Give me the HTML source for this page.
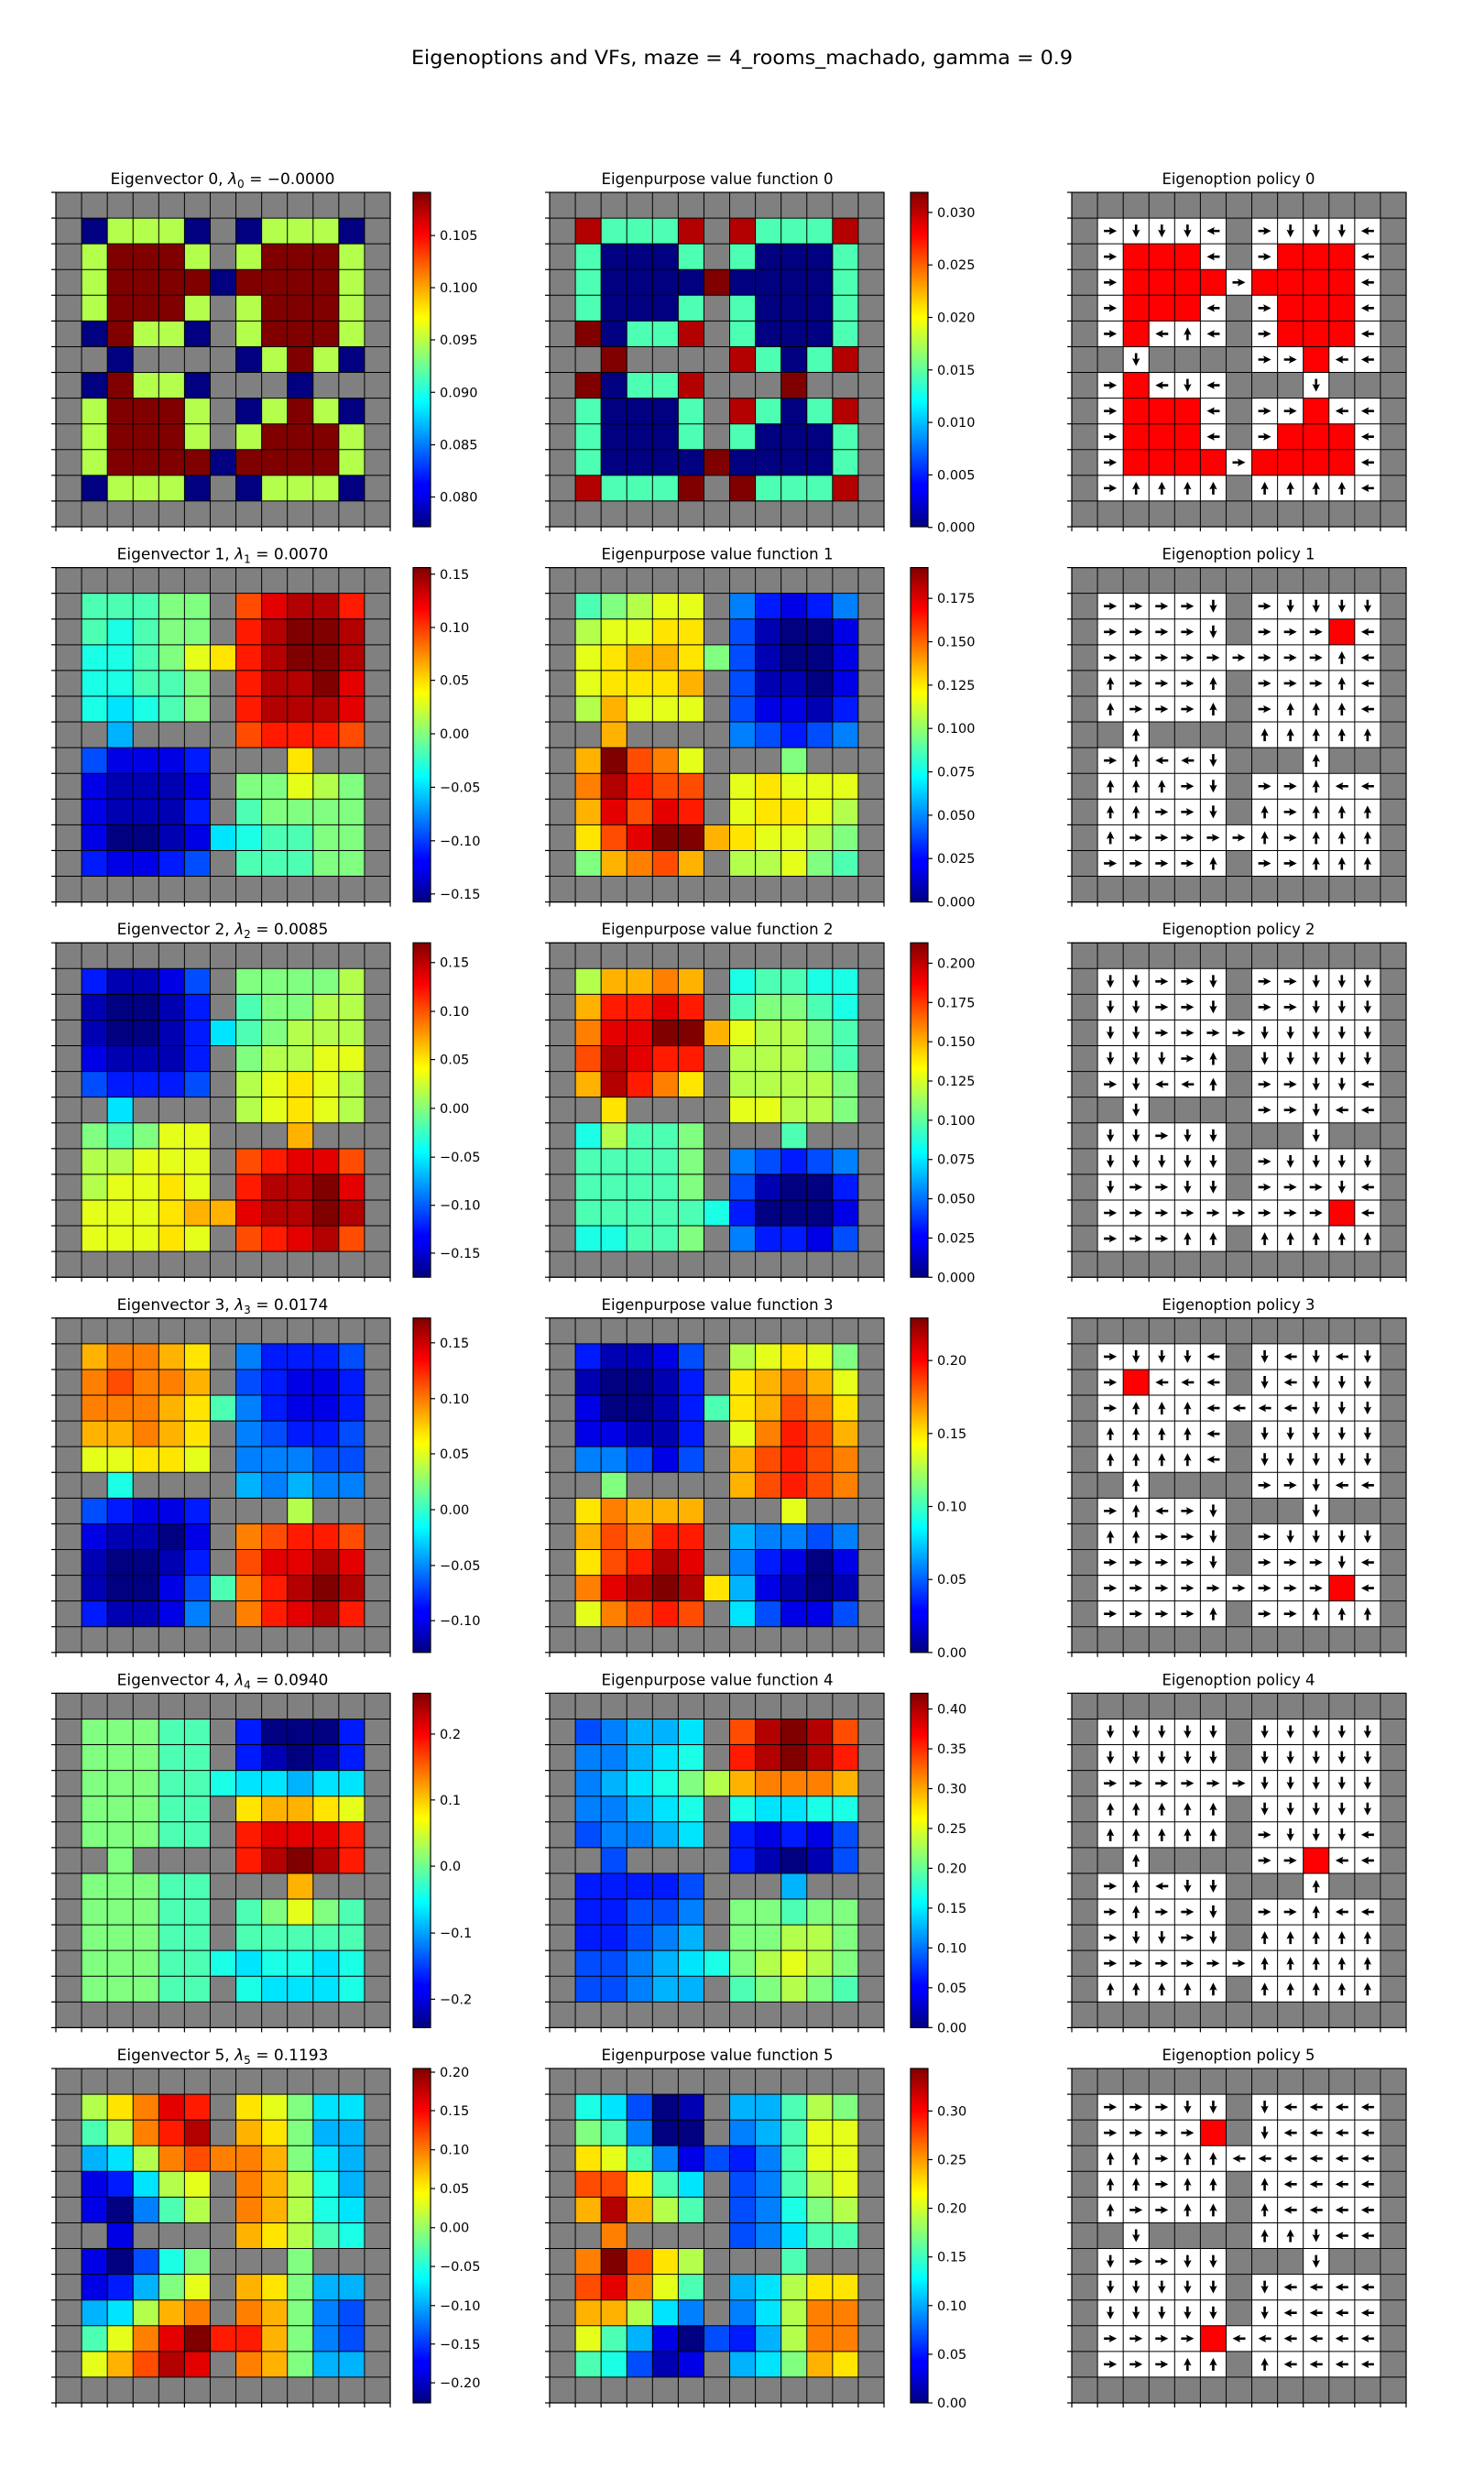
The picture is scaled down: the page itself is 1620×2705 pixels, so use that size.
<!DOCTYPE html>
<html><head><meta charset="utf-8">
<style>
html,body{margin:0;padding:0;background:#fff;}
svg text{font-family:"DejaVu Sans","Liberation Sans",sans-serif;fill:#000;}
</style></head>
<body>
<div id="host"></div>
<script>
(function(){
var H=[
["#############","#ALLLA#ALLLA#","#LUUUL#LUUUL#","#LUUUUAUUUUL#","#LUUUL#LUUUL#","#AULLA#LUUUL#","##A####ALULA#","#AULLA###A###","#LUUUL#ALULA#","#LUUUL#LUUUL#","#LUUUUAUUUUL#","#ALLLA#ALLLA#","#############"],
["#############","#TJJJT#TJJJT#","#JAAAJ#JAAAJ#","#JAAAAUAAAAJ#","#JAAAJ#JAAAJ#","#UAJJT#JAAAJ#","##U####TJAJT#","#UAJJT###U###","#JAAAJ#TJAJT#","#JAAAJ#JAAAJ#","#JAAAAUAAAAJ#","#TJJJU#UJJJT#","#############"],
["#############","#JJJKK#QSTTR#","#JIJKK#RTUUT#","#IIJKMNRTUUT#","#IIJJK#RTTUS#","#IHIJK#RTTTS#","##G####QRRRQ#","#ECCCD###N###","#CBBBC#KKMLK#","#CBBBD#JKKKK#","#CAABCHIJJKK#","#DCCDE#JJJKK#","#############"],
["#############","#JKLMM#FDCDF#","#LMMNN#EBAAC#","#MNOONKEBAAC#","#MNNNO#EBBAC#","#LOMMM#ECCBD#","##O####FEDEF#","#OUQPM###K###","#PTRQQ#MNMMM#","#OSQSR#MNNML#","#NQSUUONMMLK#","#KOPQO#LLMKJ#","#############"],
["#############","#DBBCE#KKKKL#","#BAABD#JKKLL#","#BAABDHJKLLL#","#CBBBD#KLLMM#","#EDDDE#LMNML#","##H####LMNML#","#KJKMM###O###","#LLMMM#QRSSQ#","#LMMNM#RTTUS#","#MMMNOOSTTUT#","#MMMNM#QRSTQ#","#############"],
["#############","#LOOPO#IJJII#","#ORRSR#JKKJI#","#PSSUUOMLLKJ#","#QTSRR#LLLKJ#","#OTRPN#LLLLK#","##N####MMLLK#","#ILJJK###J###","#JJJJK#FEDEF#","#JJJJK#EBAAD#","#JJJJJIDAAAC#","#IIJJK#FDDCE#","#############"],
["#############","#OPPON#FDDDE#","#PQPPO#EDCCD#","#PPPONJFDCCD#","#OOPON#FEDDE#","#MMNNM#FFFEE#","##I####GFGFF#","#EDCCD###L###","#CBBAC#PQRRQ#","#BAABD#QSSTS#","#BAACEJPRTUT#","#DBBCF#PRSTR#","#############"],
["#############","#DBBCE#LMNMK#","#BAABD#NOPOM#","#CAABDJNOQPN#","#CCBBD#MPRQO#","#FFECE#OQRQP#","##K####OQRQP#","#NPOOO###M###","#OQPRR#GFFEF#","#NQRTS#FDCAC#","#PSTUTNGCBAB#","#MPQRQ#HECCE#","#############"],
["#############","#KKKJJ#DAAAD#","#KKKJJ#DBABD#","#KKKJJIHHGHH#","#KKKJJ#NOONM#","#KKKJJ#RSSSR#","##K####RTUTR#","#KKKJJ###O###","#KKKJJ#JKMKJ#","#KKKJJ#JJJJJ#","#KKKJJIHIIHI#","#KKKJJ#IHHHI#","#############"],
["#############","#EFGGH#QTUTQ#","#FFGHI#RTUTR#","#FGHIKLOPPPO#","#FFGHI#IHHII#","#EFFGH#DCDCE#","##E####DBABE#","#DDDDE###G###","#DDEEF#KKJKK#","#DDEFG#KKLLK#","#EEFGHIKLMLK#","#EEFGG#JKLKJ#","#############"],
["#############","#LNPSR#NMKHH#","#JLPRT#ONKGG#","#GHLPQPPOKHG#","#CDHLM#POLIG#","#CAFJL#POLIH#","##C####ONLJI#","#CAEIK###K###","#CDGKM#ONKGG#","#GHLOP#POKFE#","#JMPSURROKFE#","#MOQTS#POKGG#","#############"],
["#############","#IHEAB#GGJLK#","#KJFAA#FGJMM#","#NMJFCEDFJMM#","#QQNJH#EFJLM#","#OTOLJ#EFIKL#","##P####EFHJJ#","#PUQNL###J###","#QSPMJ#GHLNN#","#OOLHF#FHLPP#","#MJGCAEDGLPP#","#JIEBC#GHKON#","#############"]
];
var P=[
["#############","#rdddl#rdddl#","#rXXXl#rXXXl#","#rXXXXrXXXXl#","#rXXXl#rXXXl#","#rXlul#rXXXl#","##d####rrXll#","#rXldl###d###","#rXXXl#rrXll#","#rXXXl#rXXXl#","#rXXXXrXXXXl#","#ruuuu#uuuul#","#############"],
["#############","#rrrrd#rdddd#","#rrrrd#rrrXl#","#rrrrrrrrrul#","#urrru#rrrul#","#urrru#ruuul#","##u####uuuuu#","#rulld###u###","#uuurd#rrull#","#uurrd#uruuu#","#urrrrruruuu#","#rrrru#rruuu#","#############"],
["#############","#ddrrd#rrddd#","#ddrrd#rrddd#","#ddrrrrddddd#","#dddru#ddddd#","#rdllu#rrddl#","##d####rrdll#","#ddrdd###d###","#ddddd#rdddd#","#drrdd#rrrdl#","#rrrrrrrrrXl#","#rrruu#uuuuu#","#############"],
["#############","#rdddl#dldld#","#rXlll#dlddd#","#ruuullllddd#","#uuuul#ddddd#","#uuuul#ddddd#","##u####rrdll#","#rulrd###d###","#uurrd#rdddd#","#rrrrd#rrrdl#","#rrrrrrrrrXl#","#rrrru#rruuu#","#############"],
["#############","#ddddd#ddddd#","#ddddd#ddddd#","#rrrrrrddddd#","#uuuuu#ddddd#","#uuuuu#rdddl#","##u####rrXll#","#ruldd###u###","#rurrd#rrull#","#rddrd#uuuuu#","#rrrrrruuuuu#","#uuuuu#uuuuu#","#############"],
["#############","#rrrdd#dllll#","#rrrrX#dllll#","#uuruullllll#","#uuruu#ullll#","#urruu#ullll#","##d####uudll#","#drrdd###d###","#ddddd#dllll#","#ddddd#dllll#","#rrrrXllllll#","#rrruu#ullll#","#############"]
];
var titles0=["−0.0000","0.0070","0.0085","0.0174","0.0940","0.1193"];
var cb0=[
 [[0.129,"0.105"],[0.285,"0.100"],[0.441,"0.095"],[0.598,"0.090"],[0.755,"0.085"],[0.911,"0.080"]],
 [[0.0196,"0.15"],[0.179,"0.10"],[0.337,"0.05"],[0.497,"0.00"],[0.657,"−0.05"],[0.817,"−0.10"],[0.976,"−0.15"]],
 [[0.059,"0.15"],[0.205,"0.10"],[0.349,"0.05"],[0.495,"0.00"],[0.641,"−0.05"],[0.785,"−0.10"],[0.928,"−0.15"]],
 [[0.074,"0.15"],[0.241,"0.10"],[0.406,"0.05"],[0.573,"0.00"],[0.74,"−0.05"],[0.905,"−0.10"]],
 [[0.122,"0.2"],[0.319,"0.1"],[0.517,"0.0"],[0.717,"−0.1"],[0.915,"−0.2"]],
 [[0.011,"0.20"],[0.126,"0.15"],[0.243,"0.10"],[0.359,"0.05"],[0.476,"0.00"],[0.592,"−0.05"],[0.709,"−0.10"],[0.824,"−0.15"],[0.94,"−0.20"]]
];
function mk(first,step,n,labels){var a=[];for(var i=0;i<n;i++)a.push([first+i*step,labels[i]]);return a;}
var cb1=[
 mk(0.06,0.157,7,["0.030","0.025","0.020","0.015","0.010","0.005","0.000"]),
 mk(0.092,0.1297,8,["0.175","0.150","0.125","0.100","0.075","0.050","0.025","0.000"]),
 mk(0.061,0.1174,9,["0.200","0.175","0.150","0.125","0.100","0.075","0.050","0.025","0.000"]),
 mk(0.127,0.2183,5,["0.20","0.15","0.10","0.05","0.00"]),
 mk(0.047,0.1191,9,["0.40","0.35","0.30","0.25","0.20","0.15","0.10","0.05","0.00"]),
 mk(0.127,0.1455,7,["0.30","0.25","0.20","0.15","0.10","0.05","0.00"])
];
function cl(v){return Math.max(0,Math.min(1,v));}
function jet(t){var r=cl(1.5-Math.abs(4*t-3)),g=cl(1.5-Math.abs(4*t-2)),b=cl(1.5-Math.abs(4*t-1));
 return "rgb("+Math.round(r*255)+","+Math.round(g*255)+","+Math.round(b*255)+")";}
var CS=365/13;
function f2(v){return v.toFixed(2);}
function grid(x0,y0){var s="";
 for(var i=0;i<=13;i++){
  var yy=f2(y0+i*CS), xx=f2(x0+i*CS);
  s+='<line x1="'+x0+'" y1="'+yy+'" x2="'+(x0+365)+'" y2="'+yy+'" stroke="#000" stroke-width="1"/>';
  s+='<line x1="'+xx+'" y1="'+f2(y0)+'" x2="'+xx+'" y2="'+f2(y0+365)+'" stroke="#000" stroke-width="1"/>';
  s+='<line x1="'+(x0-5)+'" y1="'+yy+'" x2="'+x0+'" y2="'+yy+'" stroke="#000" stroke-width="1.2"/>';
  s+='<line x1="'+xx+'" y1="'+f2(y0+365)+'" x2="'+xx+'" y2="'+f2(y0+370)+'" stroke="#000" stroke-width="1.2"/>';
 }
 s+='<rect x="'+x0+'" y="'+f2(y0)+'" width="365" height="365" fill="none" stroke="#000" stroke-width="1.2"/>';
 return s;}
function heat(x0,y0,d){var s="";
 for(var r=0;r<13;r++)for(var c=0;c<13;c++){var ch=d[r].charAt(c)||"#";
  var f=ch=="#"?"#808080":jet((ch.charCodeAt(0)-65)/20);
  s+='<rect x="'+f2(x0+c*CS)+'" y="'+f2(y0+r*CS)+'" width="'+f2(CS+0.6)+'" height="'+f2(CS+0.6)+'" fill="'+f+'"/>';}
 return s+grid(x0,y0);}
var rot={r:0,d:90,l:180,u:270};
function pol(x0,y0,d){var s="";
 for(var r=0;r<13;r++)for(var c=0;c<13;c++){var ch=d[r].charAt(c)||"#";
  var x=x0+c*CS,y=y0+r*CS;
  var f=ch=="#"?"#808080":(ch=="X"?"#ff0000":"#ffffff");
  s+='<rect x="'+f2(x)+'" y="'+f2(y)+'" width="'+f2(CS+0.6)+'" height="'+f2(CS+0.6)+'" fill="'+f+'"/>';
  if(rot.hasOwnProperty(ch)){var cx=x+CS/2,cy=y+CS/2;
   s+='<polygon points="-7,-1.3 -0.5,-1.3 -1.5,-4.2 7,0 -1.5,4.2 -0.5,1.3 -7,1.3" fill="#000" transform="translate('+f2(cx)+','+f2(cy)+') rotate('+rot[ch]+')"/>';}
 }
 return s+grid(x0,y0);}
function cbar(x0,y0,ticks){var s='<rect x="'+x0+'" y="'+f2(y0)+'" width="19" height="365" fill="url(#jet)" stroke="#000" stroke-width="1.2"/>';
 ticks.forEach(function(t){var y=y0+t[0]*365;
  s+='<line x1="'+(x0+19)+'" y1="'+f2(y)+'" x2="'+(x0+24)+'" y2="'+f2(y)+'" stroke="#000" stroke-width="1.2"/>';
  s+='<text x="'+(x0+29)+'" y="'+f2(y+5)+'" font-size="14.5">'+t[1]+'</text>';});
 return s;}
var out='<svg xmlns="http://www.w3.org/2000/svg" width="1620" height="2700" viewBox="0 0 1620 2700">'+
'<defs><linearGradient id="jet" x1="0" y1="1" x2="0" y2="0">'+
'<stop offset="0" stop-color="#00007f"/><stop offset="0.11" stop-color="#0000ff"/><stop offset="0.125" stop-color="#0000ff"/>'+
'<stop offset="0.34" stop-color="#00dcff"/><stop offset="0.375" stop-color="#00ffff"/><stop offset="0.5" stop-color="#80ff80"/>'+
'<stop offset="0.625" stop-color="#ffff00"/><stop offset="0.66" stop-color="#ffe000"/><stop offset="0.875" stop-color="#ff0000"/>'+
'<stop offset="0.89" stop-color="#f00000"/><stop offset="1" stop-color="#800000"/></linearGradient></defs>'+
'<text x="810" y="70" font-size="21" text-anchor="middle" textLength="722" lengthAdjust="spacingAndGlyphs">Eigenoptions and VFs, maze = 4_rooms_machado, gamma = 0.9</text>';
for(var i=0;i<6;i++){
 var y0=210+i*409.6;
 out+=heat(61,y0,H[2*i]);
 out+=cbar(451,y0,cb0[i]);
 out+=heat(600,y0,H[2*i+1]);
 out+=cbar(994,y0,cb1[i]);
 out+=pol(1170,y0,P[i]);
 var ty=f2(y0-9);
 out+='<text x="243" y="'+ty+'" font-size="17" text-anchor="middle">Eigenvector '+i+',  <tspan font-style="italic">λ</tspan><tspan font-size="12" dy="4">'+i+'</tspan><tspan dy="-4"> = '+titles0[i]+'</tspan></text>';
 out+='<text x="783" y="'+ty+'" font-size="17" text-anchor="middle" textLength="253" lengthAdjust="spacingAndGlyphs">Eigenpurpose value function '+i+'</text>';
 out+='<text x="1352" y="'+ty+'" font-size="17" text-anchor="middle" textLength="167" lengthAdjust="spacingAndGlyphs">Eigenoption policy '+i+'</text>';
}
out+='</svg>';
document.getElementById("host").innerHTML=out;
})();
</script>
</body></html>
